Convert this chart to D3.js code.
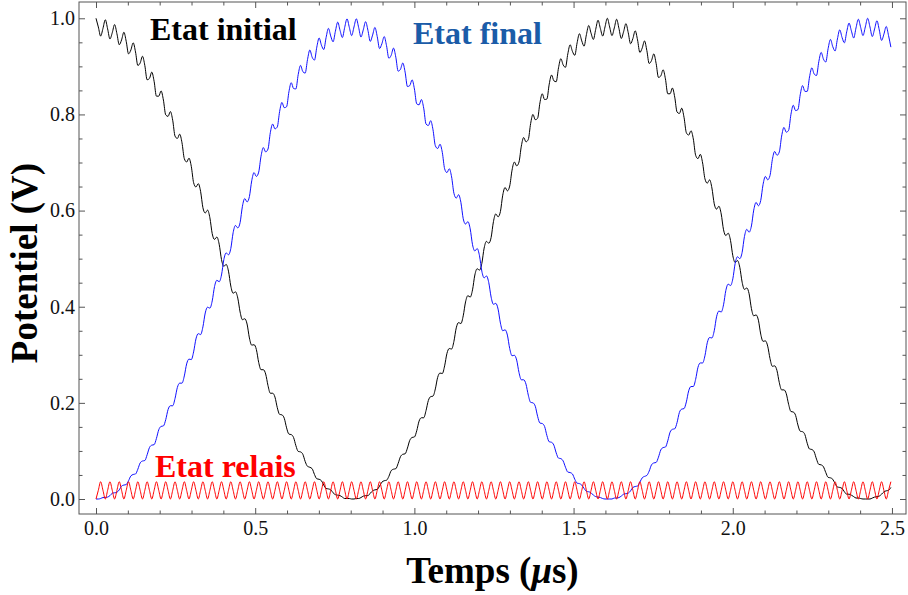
<!DOCTYPE html>
<html><head><meta charset="utf-8">
<script src="https://cdn.jsdelivr.net/npm/d3@7"></script>
<style>body{margin:0;background:#fff}svg{display:block}</style>
</head><body>
<svg id="chart" width="908" height="595"></svg>
<script>
// time between two consecutive samples (µs), samples start at t = 0
const timeStep = 0.0073;

// Etat initial (black)
const etatInitial = [
1.000,0.982,0.963,0.979,0.997,0.978,0.957,0.970,0.987,0.968,
0.945,0.955,0.971,0.952,0.926,0.934,0.949,0.930,0.902,0.907,
0.921,0.902,0.872,0.875,0.888,0.869,0.838,0.838,0.849,0.830,
0.799,0.796,0.806,0.788,0.755,0.750,0.759,0.741,0.708,0.701,
0.709,0.692,0.658,0.649,0.656,0.640,0.606,0.595,0.601,0.585,
0.552,0.540,0.545,0.530,0.498,0.484,0.488,0.474,0.443,0.428,
0.431,0.418,0.389,0.373,0.375,0.364,0.335,0.320,0.321,0.311,
0.284,0.269,0.269,0.260,0.236,0.220,0.220,0.212,0.190,0.176,
0.175,0.168,0.148,0.135,0.134,0.128,0.111,0.099,0.098,0.093,
0.078,0.068,0.066,0.063,0.051,0.042,0.041,0.038,0.029,0.022,
0.021,0.019,0.013,0.009,0.008,0.007,0.004,0.001,0.001,0.001,
0.000,0.000,0.001,0.001,0.003,0.006,0.007,0.007,0.012,0.017,
0.019,0.020,0.027,0.035,0.038,0.039,0.047,0.059,0.062,0.063,
0.074,0.088,0.093,0.094,0.106,0.122,0.128,0.129,0.142,0.162,
0.169,0.169,0.184,0.205,0.213,0.214,0.229,0.253,0.262,0.261,
0.277,0.303,0.313,0.312,0.328,0.356,0.367,0.365,0.381,0.410,
0.423,0.420,0.435,0.466,0.479,0.476,0.490,0.522,0.536,0.532,
0.544,0.577,0.593,0.587,0.598,0.632,0.648,0.641,0.651,0.684,
0.701,0.693,0.701,0.734,0.752,0.743,0.748,0.781,0.800,0.789,
0.792,0.824,0.843,0.831,0.832,0.863,0.882,0.870,0.868,0.897,
0.916,0.903,0.898,0.926,0.945,0.931,0.923,0.949,0.968,0.953,
0.942,0.966,0.985,0.969,0.956,0.977,0.996,0.979,0.963,0.982,
1.000,0.982,0.964,0.980,0.998,0.979,0.958,0.972,0.989,0.970,
0.947,0.958,0.974,0.955,0.929,0.938,0.953,0.933,0.906,0.912,
0.926,0.906,0.877,0.880,0.893,0.874,0.843,0.843,0.855,0.836,
0.805,0.802,0.813,0.794,0.762,0.757,0.766,0.749,0.715,0.708,
0.717,0.699,0.666,0.657,0.664,0.647,0.614,0.603,0.609,0.593,
0.560,0.548,0.553,0.538,0.506,0.492,0.496,0.482,0.451,0.436,
0.439,0.427,0.396,0.381,0.383,0.372,0.343,0.328,0.329,0.318,
0.292,0.276,0.277,0.267,0.242,0.227,0.227,0.219,0.197,0.182,
0.181,0.174,0.154,0.141,0.140,0.134,0.116,0.104,0.103,0.098,
0.083,0.072,0.071,0.067,0.055,0.045,0.044,0.041,0.032,0.025,
0.024,0.022,0.015,0.010,0.010,0.008,0.005,0.002,0.002,0.001,
0.000,0.000,0.000,0.000,0.002,0.004,0.005,0.006,0.010,0.015,
0.017,0.018,0.024
];

// Etat final (blue)
const etatFinal = [
0.000,0.000,0.001,0.003,0.003,0.004,0.007,0.012,0.013,0.014,
0.019,0.027,0.029,0.030,0.038,0.048,0.051,0.052,0.062,0.075,
0.079,0.080,0.092,0.107,0.112,0.113,0.126,0.144,0.151,0.152,
0.165,0.186,0.194,0.194,0.209,0.232,0.241,0.241,0.256,0.281,
0.291,0.290,0.306,0.333,0.344,0.342,0.358,0.387,0.399,0.397,
0.412,0.442,0.455,0.452,0.466,0.498,0.512,0.508,0.521,0.554,
0.569,0.564,0.575,0.609,0.625,0.618,0.629,0.662,0.679,0.671,
0.680,0.713,0.731,0.722,0.728,0.762,0.780,0.770,0.774,0.806,
0.825,0.814,0.816,0.847,0.866,0.854,0.853,0.883,0.902,0.889,
0.886,0.914,0.934,0.919,0.913,0.940,0.959,0.944,0.935,0.960,
0.979,0.963,0.951,0.973,0.992,0.975,0.960,0.981,0.999,0.981,
0.964,0.982,0.999,0.981,0.961,0.976,0.993,0.975,0.952,0.965,
0.981,0.962,0.937,0.947,0.962,0.943,0.917,0.923,0.938,0.919,
0.890,0.894,0.907,0.888,0.858,0.860,0.872,0.853,0.822,0.820,
0.831,0.813,0.780,0.777,0.787,0.768,0.735,0.729,0.738,0.721,
0.687,0.679,0.687,0.670,0.636,0.626,0.633,0.617,0.583,0.572,
0.577,0.562,0.529,0.516,0.521,0.506,0.474,0.460,0.464,0.450,
0.420,0.405,0.407,0.395,0.366,0.350,0.352,0.341,0.313,0.298,
0.299,0.289,0.263,0.248,0.248,0.239,0.216,0.201,0.200,0.193,
0.172,0.158,0.157,0.151,0.132,0.119,0.118,0.112,0.096,0.085,
0.084,0.079,0.066,0.056,0.055,0.052,0.041,0.033,0.032,0.029,
0.022,0.016,0.015,0.013,0.008,0.005,0.004,0.003,0.001,0.000,
0.000,0.000,0.000,0.002,0.002,0.003,0.006,0.010,0.011,0.012,
0.017,0.024,0.026,0.027,0.035,0.044,0.047,0.049,0.058,0.071,
0.075,0.076,0.087,0.102,0.107,0.108,0.121,0.139,0.145,0.146,
0.159,0.180,0.187,0.188,0.202,0.225,0.234,0.234,0.249,0.274,
0.283,0.283,0.298,0.325,0.336,0.335,0.350,0.379,0.391,0.389,
0.404,0.434,0.447,0.444,0.458,0.490,0.504,0.500,0.513,0.546,
0.561,0.555,0.568,0.601,0.617,0.610,0.621,0.654,0.671,0.664,
0.673,0.706,0.723,0.715,0.722,0.755,0.773,0.763,0.767,0.800,
0.819,0.808,0.810,0.841,0.860,0.848,0.848,0.878,0.897,0.884,
0.881,0.910,0.929,0.915,0.909,0.937,0.956,0.941,0.932,0.957,
0.976,0.960,0.949,0.972,0.990,0.974,0.959,0.980,0.998,0.981,
0.964,0.982,1.000,0.982,0.962,0.978,0.995,0.976,0.954,0.967,
0.983,0.964,0.940
];

// Etat relais (red)
const etatRelais = [
0,0.018,0.036,0.018, 0,0.018,0.036,0.018, 0,0.018,0.036,0.018, 0,0.018,0.036,0.018, 0,0.018,0.036,0.018,
0,0.018,0.036,0.018, 0,0.018,0.036,0.018, 0,0.018,0.036,0.018, 0,0.018,0.036,0.018, 0,0.018,0.036,0.018,
0,0.018,0.036,0.018, 0,0.018,0.036,0.018, 0,0.018,0.036,0.018, 0,0.018,0.036,0.018, 0,0.018,0.036,0.018,
0,0.018,0.036,0.018, 0,0.018,0.036,0.018, 0,0.018,0.036,0.018, 0,0.018,0.036,0.018, 0,0.018,0.036,0.018,
0,0.018,0.036,0.018, 0,0.018,0.036,0.018, 0,0.018,0.036,0.018, 0,0.018,0.036,0.018, 0,0.018,0.036,0.018,
0,0.018,0.036,0.018, 0,0.018,0.036,0.018, 0,0.018,0.036,0.018, 0,0.018,0.036,0.018, 0,0.018,0.036,0.018,
0,0.018,0.036,0.018, 0,0.018,0.036,0.018, 0,0.018,0.036,0.018, 0,0.018,0.036,0.018, 0,0.018,0.036,0.018,
0,0.018,0.036,0.018, 0,0.018,0.036,0.018, 0,0.018,0.036,0.018, 0,0.018,0.036,0.018, 0,0.018,0.036,0.018,
0,0.018,0.036,0.018, 0,0.018,0.036,0.018, 0,0.018,0.036,0.018, 0,0.018,0.036,0.018, 0,0.018,0.036,0.018,
0,0.018,0.036,0.018, 0,0.018,0.036,0.018, 0,0.018,0.036,0.018, 0,0.018,0.036,0.018, 0,0.018,0.036,0.018,
0,0.018,0.036,0.018, 0,0.018,0.036,0.018, 0,0.018,0.036,0.018, 0,0.018,0.036,0.018, 0,0.018,0.036,0.018,
0,0.018,0.036,0.018, 0,0.018,0.036,0.018, 0,0.018,0.036,0.018, 0,0.018,0.036,0.018, 0,0.018,0.036,0.018,
0,0.018,0.036,0.018, 0,0.018,0.036,0.018, 0,0.018,0.036,0.018, 0,0.018,0.036,0.018, 0,0.018,0.036,0.018,
0,0.018,0.036,0.018, 0,0.018,0.036,0.018, 0,0.018,0.036,0.018, 0,0.018,0.036,0.018, 0,0.018,0.036,0.018,
0,0.018,0.036,0.018, 0,0.018,0.036,0.018, 0,0.018,0.036,0.018, 0,0.018,0.036,0.018, 0,0.018,0.036,0.018,
0,0.018,0.036,0.018, 0,0.018,0.036,0.018, 0,0.018,0.036,0.018, 0,0.018,0.036,0.018, 0,0.018,0.036,0.018,
0,0.018,0.036,0.018, 0,0.018,0.036,0.018, 0,0.018,0.036,0.018, 0,0.018,0.036,0.018, 0,0.018,0.036,0.018,
0,0.018,0.036
];

const seriesNames = ["Etat initial", "Etat final", "Etat relais"];
const xTickValues = [0, 0.5, 1.0, 1.5, 2.0, 2.5];
const xTickLabels = ["0.0", "0.5", "1.0", "1.5", "2.0", "2.5"];
const xMinorTicks = [0.1,0.2,0.3,0.4,0.6,0.7,0.8,0.9,1.1,1.2,1.3,1.4,1.6,1.7,1.8,1.9,2.1,2.2,2.3,2.4];
const yTickValues = [0, 0.2, 0.4, 0.6, 0.8, 1.0];
const yTickLabels = ["0.0", "0.2", "0.4", "0.6", "0.8", "1.0"];
const yMinorTicks = [0.05,0.1,0.15,0.25,0.3,0.35,0.45,0.5,0.55,0.65,0.7,0.75,0.85,0.9,0.95];
const xDomain = [-0.0534, 2.5441];
const yDomain = [-0.0312, 1.0339];

const svg = d3.select("#chart");
const L = 79, R = 906, T = 2, B = 514;
const x = d3.scaleLinear().domain(xDomain).range([L, R]);
const y = d3.scaleLinear().domain(yDomain).range([B, T]);

const serif = "'Liberation Serif','Times New Roman',serif";
const frameColor = "#555";

// data series
const series = [
  {name: seriesNames[0], values: etatInitial, color: "#000000", w: 1},
  {name: seriesNames[1], values: etatFinal, color: "#1010ff", w: 1},
  {name: seriesNames[2], values: etatRelais, color: "#ff0000", w: 1}
];
const line = d3.line()
  .x((d, i) => x(i * timeStep))
  .y(d => y(d))
  .curve(d3.curveMonotoneX);

svg.append("defs").append("clipPath").attr("id", "clip")
  .append("rect").attr("x", L).attr("y", T).attr("width", R - L).attr("height", B - T);

const plot = svg.append("g").attr("clip-path", "url(#clip)");
series.forEach(s => {
  plot.append("path")
    .datum(s.values)
    .attr("fill", "none")
    .attr("stroke", s.color)
    .attr("stroke-width", s.w)
    .attr("stroke-linejoin", "round")
    .attr("d", line);
});

// axes (ticks pointing inward, Mathematica frame style)
function styleAxis(g) {
  g.select(".domain").remove();
  g.selectAll(".tick line").attr("stroke", frameColor).attr("stroke-width", 1);
  g.selectAll(".tick text").attr("fill", "#111").style("font-family", serif).style("font-size", "20px");
}
const fmtX = d => xTickLabels[xTickValues.indexOf(d)];
const fmtY = d => yTickLabels[yTickValues.indexOf(d)];

svg.append("g").attr("transform", `translate(0,${B})`)
  .call(d3.axisBottom(x).tickValues(xTickValues).tickFormat(fmtX).tickSize(-6).tickPadding(7)).call(styleAxis);
svg.append("g").attr("transform", `translate(0,${B})`)
  .call(d3.axisBottom(x).tickValues(xMinorTicks).tickFormat("").tickSize(-3.5)).call(styleAxis);
svg.append("g").attr("transform", `translate(0,${T})`)
  .call(d3.axisTop(x).tickValues(xTickValues).tickFormat("").tickSize(-6)).call(styleAxis);
svg.append("g").attr("transform", `translate(0,${T})`)
  .call(d3.axisTop(x).tickValues(xMinorTicks).tickFormat("").tickSize(-3.5)).call(styleAxis);

svg.append("g").attr("transform", `translate(${L},0)`)
  .call(d3.axisLeft(y).tickValues(yTickValues).tickFormat(fmtY).tickSize(-6).tickPadding(4)).call(styleAxis);
svg.append("g").attr("transform", `translate(${L},0)`)
  .call(d3.axisLeft(y).tickValues(yMinorTicks).tickFormat("").tickSize(-3.5)).call(styleAxis);
svg.append("g").attr("transform", `translate(${R},0)`)
  .call(d3.axisRight(y).tickValues(yTickValues).tickFormat("").tickSize(-6)).call(styleAxis);
svg.append("g").attr("transform", `translate(${R},0)`)
  .call(d3.axisRight(y).tickValues(yMinorTicks).tickFormat("").tickSize(-3.5)).call(styleAxis);

svg.append("rect").attr("x", L).attr("y", T).attr("width", R - L).attr("height", B - T)
  .attr("fill", "none").attr("stroke", frameColor).attr("stroke-width", 1);

// axis titles
const xt = svg.append("text")
  .attr("x", (L + R) / 2).attr("y", 583)
  .attr("text-anchor", "middle")
  .style("font-family", serif).style("font-size", "37px").style("font-weight", "bold")
  .attr("fill", "#000");
xt.append("tspan").text("Temps (");
xt.append("tspan").style("font-style", "italic").text("\u03bc");
xt.append("tspan").text("s)");

svg.append("text")
  .attr("transform", "translate(37,263) rotate(-90)")
  .attr("text-anchor", "middle")
  .style("font-family", serif).style("font-size", "37px").style("font-weight", "bold")
  .attr("fill", "#000")
  .text("Potentiel (V)");

// series labels
const labels = [
  {text: seriesNames[0], x: 150, y: 40, color: "#000000"},
  {text: seriesNames[1], x: 413, y: 44, color: "#1b5ca8"},
  {text: seriesNames[2], x: 155, y: 477, color: "#ff0000"}
];
labels.forEach(l => {
  svg.append("text").attr("x", l.x).attr("y", l.y)
    .style("font-family", serif).style("font-size", "32px").style("font-weight", "bold")
    .attr("fill", l.color).text(l.text);
});
</script>
</body></html>
